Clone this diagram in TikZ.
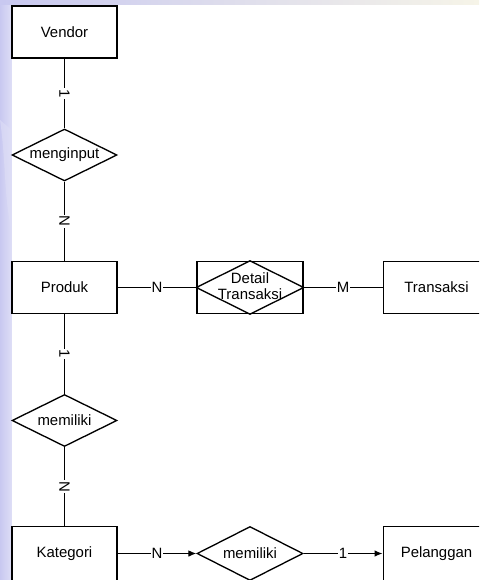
\documentclass[tikz,border=0pt]{standalone}
\usepackage{fontspec}
\setmainfont{Liberation Sans}
\usetikzlibrary{shapes.geometric,arrows.meta}
\definecolor{lav}{RGB}{200,200,240}
\definecolor{lavlight}{RGB}{222,222,246}
\definecolor{cream}{RGB}{246,244,232}
\begin{document}
\begin{tikzpicture}[x=0.75pt,y=-0.75pt,
  font=\fontsize{11.2}{13}\selectfont,
  line width=0.9pt,
  entity/.style={draw,line width=1pt,rectangle,minimum width=78.75pt,minimum height=39pt,inner sep=0pt,fill=white},
  relation/.style={draw,line width=1pt,diamond,aspect=2,minimum width=78.75pt,minimum height=39pt,inner sep=0pt,fill=white},
  card/.style={fill=white,inner sep=0.8pt},
  vcard/.style={card,rotate=-90},
  tip/.style={-{Latex[length=6pt,width=5pt]}}]
\useasboundingbox (0,0) rectangle (479,580);
\clip (0,0) rectangle (479,580);
% slide background
\fill[white] (0,0) rectangle (479,580);
\shade[left color=lav,right color=lavlight] (0,0) rectangle (11.5,580);
\shade[left color=lav,right color=cream] (0,0) rectangle (479,5);
\fill[lavlight,opacity=0.6] (0,120) .. controls (6,160) and (4,200) .. (11.5,230) -- (11.5,130) -- cycle;

% entities
\node[entity] (vendor) at (64.5,32) {Vendor};
\node[entity] (produk) at (64.5,287.5) {Produk};
\node[entity,minimum width=80pt] (transaksi) at (436.5,287.5) {Transaksi};
\node[entity,minimum height=40.5pt] (kategori) at (64.5,553.5) {Kategori};
\node[entity,minimum width=80pt,minimum height=40.5pt] (pelanggan) at (436.5,553.5) {Pelanggan};

% relationships
\node[relation] (menginput) at (64.5,155) {menginput};
\node[relation] (memiliki1) at (64.5,420.5) {memiliki};
\node[relation,minimum width=79.5pt,minimum height=40.5pt] (memiliki2) at (250,553.5) {memiliki};

% associative entity: box with a diamond inside
\node[entity,minimum width=79.5pt] (detail) at (250,287.5) {};
\draw[line width=1pt] (detail.west) -- (detail.north) -- (detail.east) -- (detail.south) -- cycle;
\node[align=center,inner sep=0pt,font=\fontsize{11.2}{12}\selectfont] (detailtext) at (250,286) {Detail\\Transaksi};

% connectors with cardinalities
\draw (vendor) -- node[vcard,pos=0.5] {1} (menginput);
\draw (menginput) -- node[vcard,pos=0.5] {N} (produk);
\draw (produk) -- node[vcard,pos=0.5] {1} (memiliki1);
\draw (memiliki1) -- node[vcard,pos=0.5] {N} (kategori);
\draw (produk) -- node[card] {N} (detail);
\draw (detail) -- node[card] {M} (transaksi);
\draw[tip] (kategori.east) -- node[card] {N} (memiliki2.west);
\draw[tip] (memiliki2.east) -- node[card] {1} (pelanggan.west);
\end{tikzpicture}
\end{document}
